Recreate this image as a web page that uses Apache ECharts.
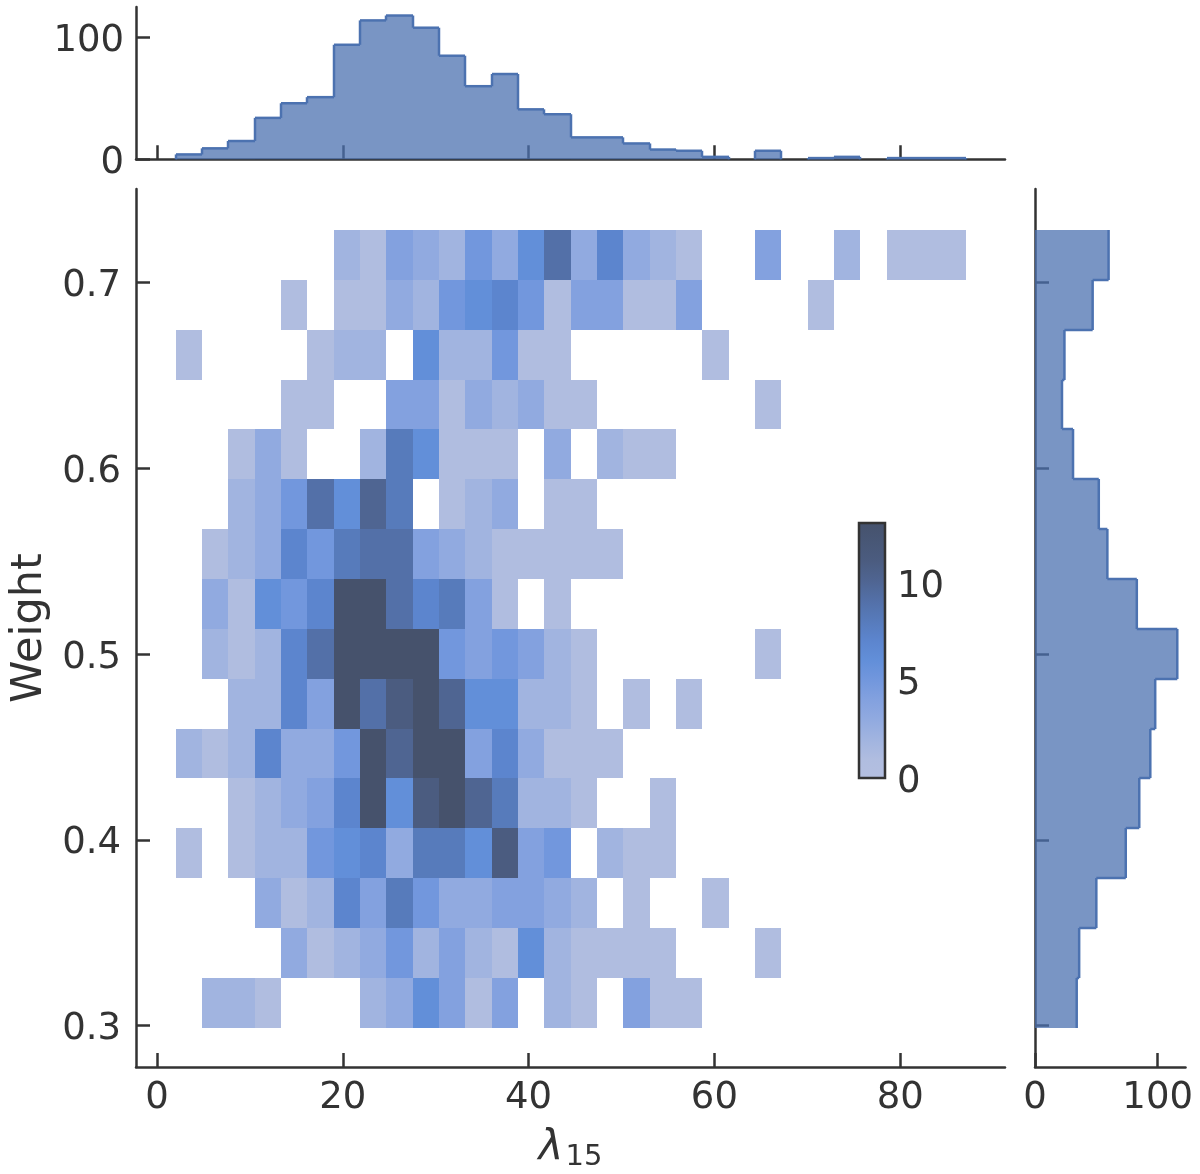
<!DOCTYPE html>
<html>
<head>
<meta charset="utf-8">
<style>
  html, body { margin: 0; padding: 0; background: #fff; }
  #main { width: 1200px; height: 1174px; }
</style>
<script src="https://cdn.jsdelivr.net/npm/echarts@6/dist/echarts.min.js"></script>
</head>
<body>
<div id="main"></div>
<script>
// bin layout, in data units
const xStart = 2.01, xBin = 2.834;
const yStart = 0.2989, yBin = 0.02682;

// counts per cell, first row is the top weight bin
const row00 = [0,0,0,0,0,0,2,1,4,3,2,5,3,6,9,3,7,3,2,1,0,0,4,0,0,2,0,1,1,1];
const row01 = [0,0,0,0,1,0,1,1,3,2,5,6,7,5,1,4,4,1,1,4,0,0,0,0,1,0,0,0,0,0];
const row02 = [1,0,0,0,0,1,2,2,0,6,2,2,5,1,1,0,0,0,0,0,1,0,0,0,0,0,0,0,0,0];
const row03 = [0,0,0,0,1,1,0,0,4,4,1,3,2,3,1,1,0,0,0,0,0,0,1,0,0,0,0,0,0,0];
const row04 = [0,0,1,3,1,0,0,2,8,6,1,1,1,0,3,0,2,1,1,0,0,0,0,0,0,0,0,0,0,0];
const row05 = [0,0,2,3,5,9,6,10,8,0,1,2,3,0,1,1,0,0,0,0,0,0,0,0,0,0,0,0,0,0];
const row06 = [0,1,2,3,7,5,8,9,9,4,3,2,1,1,1,1,1,0,0,0,0,0,0,0,0,0,0,0,0,0];
const row07 = [0,3,1,6,5,7,15,16,9,7,8,4,1,0,1,0,0,0,0,0,0,0,0,0,0,0,0,0,0,0];
const row08 = [0,2,1,2,7,9,18,18,18,19,5,4,5,4,2,1,0,0,0,0,0,0,1,0,0,0,0,0,0,0];
const row09 = [0,0,2,2,7,4,16,9,11,18,10,6,6,2,2,1,0,1,0,1,0,0,0,0,0,0,0,0,0,0];
const row10 = [2,1,2,7,3,3,5,14,10,15,15,4,7,3,1,1,1,0,0,0,0,0,0,0,0,0,0,0,0,0];
const row11 = [0,0,1,2,3,4,7,13,6,11,14,10,8,2,2,1,0,0,1,0,0,0,0,0,0,0,0,0,0,0];
const row12 = [1,0,1,2,2,5,6,7,3,8,8,6,11,4,5,0,2,1,1,0,0,0,0,0,0,0,0,0,0,0];
const row13 = [0,0,0,3,1,2,7,4,8,5,3,3,4,4,3,2,0,1,0,0,1,0,0,0,0,0,0,0,0,0];
const row14 = [0,0,0,0,3,1,2,3,5,2,4,2,1,6,2,1,1,1,1,0,0,0,1,0,0,0,0,0,0,0];
const row15 = [0,2,2,1,0,0,0,2,3,6,4,1,4,0,2,1,0,4,1,1,0,0,0,0,0,0,0,0,0,0];
const rows = [row00,row01,row02,row03,row04,row05,row06,row07,row08,row09,row10,row11,row12,row13,row14,row15];

// marginal histograms
const xCounts = [4,9,15,34,46,51,94,114,118,108,85,60,70,41,37,18,18,13,8,7,2,0,7,0,1,2,0,1,1,1];
const yCounts = [60,47,24,22,31,52,59,83,116,98,94,85,74,50,36,34]; // top to bottom

// ticks
const xTicks = [0,20,40,60,80];
const yTicks = [0.3,0.4,0.5,0.6,0.7];
const topTicks = [0,100];
const rightTicks = [0,100];
const cbarTicks = [0,5,10];

// colour for a count of 0..13, anything above is clamped
const countColors = ['#B4BFE0','#B0BDE0','#A1B4E0','#91AAE0','#83A1DF','#7297DD','#628FD9',
                     '#5C85CE','#577BBB','#5370A8','#4F6592','#4B5C80','#485776','#46526C'];

const ink = '#333333';
const fontSize = 37;

let cells = [];
rows.forEach((row, r) => {
    row.forEach((c, i) => {
        if (c > 0) cells.push([i, rows.length - 1 - r, c]);
    });
});

function renderCell(params, api) {
    let i = api.value(0), j = api.value(1), c = api.value(2);
    let p0 = api.coord([xStart + i * xBin, yStart + (j + 1) * yBin]);
    let p1 = api.coord([xStart + (i + 1) * xBin, yStart + j * yBin]);
    let x = Math.round(p0[0]), y = Math.round(p0[1]);
    return {
        type: 'rect',
        shape: { x: x, y: y, width: Math.round(p1[0]) - x, height: Math.round(p1[1]) - y },
        style: { fill: countColors[Math.min(c, 13)] }
    };
}

// one bin of a step histogram, fill plus riser and top edge
function renderTopBin(params, api) {
    let i = params.dataIndex, c = xCounts[i];
    let prev = i > 0 ? xCounts[i - 1] : 0;
    let next = i < xCounts.length - 1 ? xCounts[i + 1] : 0;
    let a = api.coord([xStart + i * xBin, c]);
    let b = api.coord([xStart + (i + 1) * xBin, 0]);
    let r = api.coord([xStart + i * xBin, prev]);
    let e = api.coord([xStart + (i + 1) * xBin, next]);
    let x0 = Math.round(a[0]), x1 = Math.round(b[0]);
    let children = [];
    if (c > 0) {
        children.push({ type: 'rect', shape: { x: x0, y: a[1], width: x1 - x0, height: b[1] - a[1] },
            style: { fill: 'rgba(76,114,176,0.75)' } });
        children.push({ type: 'polyline', shape: { points: [[x0, a[1]], [x1, a[1]]] },
            style: { stroke: '#4C72B0', lineWidth: 2.5, fill: null } });
    }
    children.push({ type: 'polyline', shape: { points: [[x0, r[1]], [x0, a[1]]] },
        style: { stroke: '#4C72B0', lineWidth: 2.5, fill: null } });
    if (i === xCounts.length - 1) {
        children.push({ type: 'polyline', shape: { points: [[x1, a[1]], [x1, e[1]]] },
            style: { stroke: '#4C72B0', lineWidth: 2.5, fill: null } });
    }
    return { type: 'group', children: children };
}

function renderRightBin(params, api) {
    let r = params.dataIndex, c = yCounts[r], j = yCounts.length - 1 - r;
    let prev = r > 0 ? yCounts[r - 1] : 0;
    let a = api.coord([c, yStart + (j + 1) * yBin]);
    let b = api.coord([0, yStart + j * yBin]);
    let s = api.coord([prev, yStart + (j + 1) * yBin]);
    let y0 = Math.round(a[1]), y1 = Math.round(b[1]);
    let children = [
        { type: 'rect', shape: { x: b[0], y: y0, width: a[0] - b[0], height: y1 - y0 },
          style: { fill: 'rgba(76,114,176,0.75)' } },
        { type: 'polyline', shape: { points: [[a[0], y0], [a[0], y1]] },
          style: { stroke: '#4C72B0', lineWidth: 2.5, fill: null } }
    ];
    if (r > 0) {
        children.push({ type: 'polyline', shape: { points: [[s[0], y0], [a[0], y0]] },
            style: { stroke: '#4C72B0', lineWidth: 2.5, fill: null } });
    }
    return { type: 'group', children: children };
}

function renderCbar(params, api) {
    let p0 = api.coord([0, api.value(1)]);
    let p1 = api.coord([1, api.value(0)]);
    return {
        type: 'rect',
        shape: { x: p0[0], y: p0[1], width: p1[0] - p0[0], height: p1[1] - p0[1] },
        style: {
            fill: new echarts.graphic.LinearGradient(0, 1, 0, 0,
                countColors.map((c, i) => ({ offset: i / (countColors.length - 1), color: c }))),
            stroke: ink,
            lineWidth: 2.5
        }
    };
}

function axisBits(ticks) {
    return {
        axisLine: { show: true, onZero: false, lineStyle: { color: ink, width: 2.5 } },
        axisTick: { show: true, inside: true, length: 14, customValues: ticks, lineStyle: { color: ink, width: 2.5 } },
        splitLine: { show: false }
    };
}

function label(ticks, margin, fmt) {
    return { show: true, customValues: ticks, margin: margin, fontSize: fontSize, color: ink,
             fontFamily: 'DejaVu Sans', formatter: fmt, hideOverlap: false };
}

// the y labels sit a little below their tick in the original
function yLabel(ticks, margin, fmt) {
    return Object.assign(label(ticks, margin, fmt), { verticalAlign: 'top', lineHeight: 8 });
}

const xMin = -2.26, xMax = 91.28;
const yMin = 0.2778, yMax = 0.7501;

let option = {
    backgroundColor: '#fff',
    animation: false,
    textStyle: { fontFamily: 'DejaVu Sans' },
    grid: [
        { left: 136, top: 189, width: 869, height: 878, outerBoundsMode: 'none' },
        { left: 136, top: 7, width: 869, height: 152.3, outerBoundsMode: 'none' },
        { left: 1035, top: 189, width: 150.5, height: 878, outerBoundsMode: 'none' },
        { left: 859, top: 523, width: 26, height: 255, outerBoundsMode: 'none' }
    ],
    xAxis: [
        Object.assign({ type: 'value', gridIndex: 0, min: xMin, max: xMax,
            axisLabel: label(xTicks, 13),
            name: '{l|λ}{s|15}', nameLocation: 'middle', nameGap: 60,
            nameTextStyle: { rich: {
                l: { fontSize: 42, fontStyle: 'italic', color: ink, fontFamily: 'DejaVu Sans' },
                s: { fontSize: 29, color: ink, fontFamily: 'DejaVu Sans', padding: [16, 0, 0, 2] }
            } } }, axisBits(xTicks)),
        Object.assign({ type: 'value', gridIndex: 1, min: xMin, max: xMax,
            axisLabel: { show: false } }, axisBits(xTicks)),
        Object.assign({ type: 'value', gridIndex: 2, min: 0, max: 122.7,
            axisLabel: label(rightTicks, 13) }, axisBits(rightTicks)),
        { type: 'value', gridIndex: 3, min: 0, max: 1, show: false }
    ],
    yAxis: [
        Object.assign({ type: 'value', gridIndex: 0, min: yMin, max: yMax,
            axisLabel: yLabel(yTicks, 15, v => v.toFixed(1)),
            name: 'Weight', nameLocation: 'middle', nameGap: 81,
            nameTextStyle: { fontSize: 43, color: ink, fontFamily: 'DejaVu Sans' } }, axisBits(yTicks)),
        Object.assign({ type: 'value', gridIndex: 1, min: 0, max: 125,
            axisLabel: yLabel(topTicks, 12) }, axisBits(topTicks)),
        Object.assign({ type: 'value', gridIndex: 2, min: yMin, max: yMax,
            axisLabel: { show: false } }, axisBits(yTicks)),
        { type: 'value', gridIndex: 3, position: 'right', min: 0, max: 13.08,
            axisLine: { show: false }, axisTick: { show: false }, splitLine: { show: false },
            axisLabel: yLabel(cbarTicks, 12) }
    ],
    series: [
        { type: 'custom', xAxisIndex: 0, yAxisIndex: 0, renderItem: renderCell, data: cells, clip: false, silent: true },
        { type: 'custom', xAxisIndex: 1, yAxisIndex: 1, renderItem: renderTopBin,
          data: xCounts.map((c, i) => [xStart + i * xBin, c]), silent: true },
        { type: 'custom', xAxisIndex: 2, yAxisIndex: 2, renderItem: renderRightBin,
          data: yCounts.map((c, r) => [c, yStart + (yCounts.length - 1 - r) * yBin]), silent: true },
        { type: 'custom', xAxisIndex: 3, yAxisIndex: 3, renderItem: renderCbar, data: [[0, 13.08]], silent: true, clip: false }
    ]
};

let myChart = echarts.init(document.getElementById('main'), null, { renderer: 'canvas' });
myChart.setOption(option);
</script>
</body>
</html>
